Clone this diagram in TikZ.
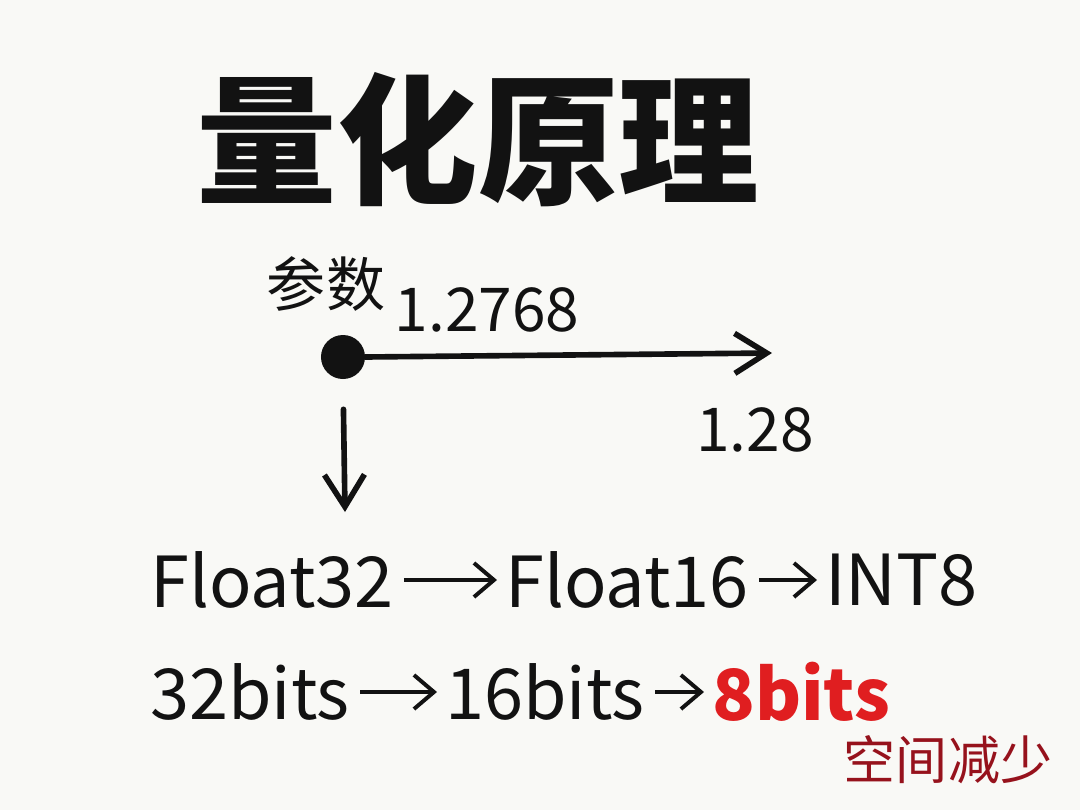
\documentclass[tikz,border=0pt]{standalone}
\usepackage{fontspec}
\setmainfont{Noto Sans CJK SC}
\usetikzlibrary{arrows.meta}
\definecolor{paper}{RGB}{249,249,246}
\definecolor{ink}{RGB}{18,18,18}
\definecolor{hotred}{RGB}{224,30,32}
\definecolor{darkred}{RGB}{150,18,28}

\begin{document}
\begin{tikzpicture}[x=0.025cm, y=-0.025cm,
    word/.style = {inner sep=0pt, anchor=west, text=ink, font=\fontsize{50}{50}\selectfont},
    num/.style = {inner sep=0pt, text=ink, font=\fontsize{43}{43}\selectfont},
    bigarrow/.style = {draw=ink, line width=4pt, line cap=round, -{Straight Barb[length=8mm, width=10mm, line width=4pt]}},
    link/.style = {draw=ink, line width=2.8pt, -{Straight Barb[length=5mm, width=8.5mm, line width=2.8pt]}, shorten <=2.5mm, shorten >=2mm}]
		\fill[paper] (0,0) rectangle (1080,810);
		
		\node[inner sep=0pt, text=ink, font=\fontsize{100}{100}\selectfont\bfseries] (title) at (478,140) {量化原理};
		\node[inner sep=0pt, text=ink, font=\fontsize{42}{42}\selectfont] (param) at (326,284) {参数};
		\node[circle, fill=ink, inner sep=0pt, minimum size=1.1cm] (dot) at (343,357) {};
		\node[num] (before) at (487,310) {1.2768};
		\node[num] (after) at (755,430) {1.28};
		\coordinate (right) at (772,353);
		\coordinate (down) at (345,512);
		
		\draw[bigarrow] (dot.east) -- (right);
		\draw[bigarrow, shorten <=7.5mm] (dot.south) -- (down);
		
		% formats
		\node[word] (f32) at (150,580) {Float32};
		\node[word] (f16) at (505,580) {Float16};
		\node[word] (i8) at (825,580) {INT8};
		\draw[link] (f32) -- (f16);
		\draw[link] (f16) -- (i8);
		
		% bits
		\node[word] (b32) at (150,692) {32bits};
		\node[word] (b16) at (445,692) {16bits};
		\node[word, text=hotred, font=\fontsize{50}{50}\selectfont\bfseries] (b8) at (712,692) {8bits};
		\draw[link] (b32) -- (b16);
		\draw[link] (b16) -- (b8);
		
		\node[inner sep=0pt, text=darkred, font=\fontsize{37}{37}\selectfont] (less) at (948,760) {空间减少};
	\end{tikzpicture}
\end{document}
